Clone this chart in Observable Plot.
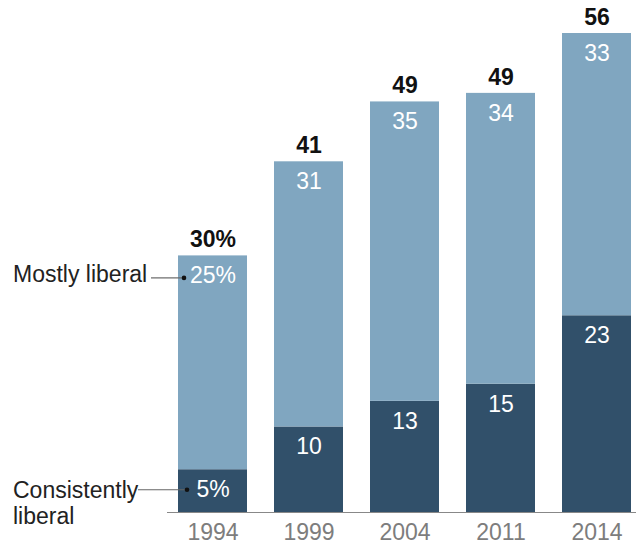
<!DOCTYPE html>
<html>
<head>
<meta charset="utf-8">
<script src="https://cdn.jsdelivr.net/npm/d3@7"></script>
<script src="https://cdn.jsdelivr.net/npm/@observablehq/plot@0.6"></script>
<style>
  html, body { margin: 0; padding: 0; background: #fff; }
  #chart svg { display: block; }
</style>
</head>
<body>
<div id="chart"></div>
<script>
const years = ["1994", "1999", "2004", "2011", "2014"];
const consistently = [5, 10, 13, 15, 23];
const mostly = [25, 31, 35, 34, 33];
const totals = [30, 41, 49, 49, 56];
const groups = ["Consistently liberal", "Mostly liberal"];
const colors = ["#31506a", "#80a6c0"];

const stacked = years.flatMap((yr, i) => [
  {year: yr, group: groups[0], value: consistently[i]},
  {year: yr, group: groups[1], value: mostly[i]}
]);
const pct = (v, i) => i === 0 ? v + "%" : String(v);
const darkLabels = years.map((yr, i) => ({year: yr, y: consistently[i], label: pct(consistently[i], i)}));
const lightLabels = years.map((yr, i) => ({year: yr, y: consistently[i] + mostly[i], label: pct(mostly[i], i)}));
const totalLabels = years.map((yr, i) => ({year: yr, y: consistently[i] + mostly[i], label: pct(totals[i], i)}));

const annoDark = [{year: years[0], y: consistently[0], text: "Consistently\nliberal"}];
const annoLight = [{year: years[0], y: consistently[0] + mostly[0], text: "Mostly liberal"}];

const chart = Plot.plot({
  width: 636,
  height: 546,
  marginLeft: 173,
  marginRight: 0,
  marginTop: 33,
  marginBottom: 34,
  style: {fontFamily: "'Liberation Sans', Arial, sans-serif", fontSize: "23px", background: "#fff", overflow: "visible"},
  x: {domain: years, paddingInner: 0.285, paddingOuter: 0.04, label: null},
  y: {domain: [0, 56], axis: null},
  color: {domain: groups, range: colors},
  marks: [
    Plot.barY(stacked, {x: "year", y: "value", fill: "group"}),
    Plot.ruleY([0], {stroke: "#888", strokeWidth: 1.2, insetLeft: -6}),
    Plot.axisX({tickSize: 0, tickPadding: 11, fill: "#7d7d7d", fontSize: 23}),
    Plot.text(darkLabels, {x: "year", y: "y", text: "label", dy: 20, fill: "#fff"}),
    Plot.text(lightLabels, {x: "year", y: "y", text: "label", dy: 20, fill: "#fff"}),
    Plot.text(totalLabels, {x: "year", y: "y", text: "label", dy: -16, fill: "#111", fontWeight: "bold"}),
    // annotation leader lines
    Plot.ruleY(annoLight, {y: "y", x1: "year", x2: "year", dy: 22, insetLeft: -27, insetRight: 64, stroke: "#666", strokeWidth: 1.2}),
    Plot.ruleY(annoDark, {y: "y", x1: "year", x2: "year", dy: 20, insetLeft: -40, insetRight: 61, stroke: "#666", strokeWidth: 1.2}),
    Plot.dot(annoLight, {x: "year", y: "y", dx: -29, dy: 22, r: 2.3, fill: "#111", stroke: null}),
    Plot.dot(annoDark, {x: "year", y: "y", dx: -26, dy: 20, r: 2.3, fill: "#111", stroke: null}),
    Plot.text(annoLight, {x: "year", y: "y", text: "text", dx: -200, dy: 19, textAnchor: "start", fill: "#222"}),
    Plot.text(annoDark, {x: "year", y: "y", text: "text", dx: -200, dy: 9, textAnchor: "start", lineAnchor: "top", lineHeight: 1.15, fill: "#222"})
  ]
});
document.getElementById("chart").appendChild(chart);
</script>
</body>
</html>
